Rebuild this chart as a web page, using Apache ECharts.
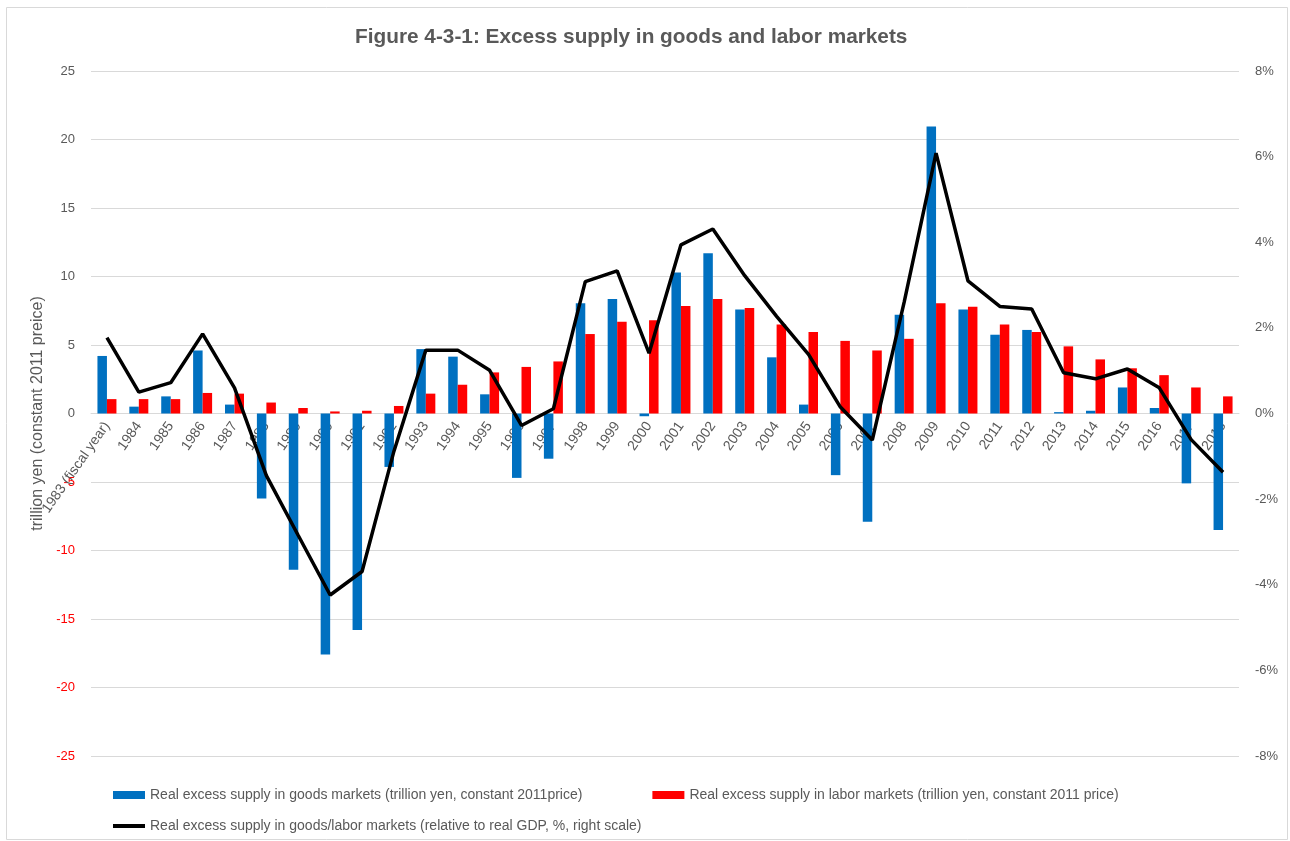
<!DOCTYPE html>
<html>
<head>
<meta charset="utf-8">
<script src="https://cdn.jsdelivr.net/npm/echarts@6/dist/echarts.min.js"></script>
<style>
html,body{margin:0;padding:0;background:#fff;}
#chart{width:1290px;height:841px;}
</style>
</head>
<body>
<div id="chart"></div>
<script>
const years = ["1983 (fiscal year)","1984","1985","1986","1987","1988","1989","1990","1991","1992","1993","1994","1995","1996","1997","1998","1999","2000","2001","2002","2003","2004","2005","2006","2007","2008","2009","2010","2011","2012","2013","2014","2015","2016","2017","2018"];
const goodsExcess = [4.2,0.5,1.25,4.6,0.65,-6.2,-11.4,-17.6,-15.8,-3.9,4.7,4.15,1.4,-4.7,-3.3,8.05,8.35,-0.2,10.3,11.7,7.6,4.1,0.65,-4.5,-7.9,7.2,20.95,7.6,5.75,6.1,0.1,0.2,1.9,0.4,-5.1,-8.5];
const laborExcess = [1.05,1.05,1.05,1.5,1.45,0.8,0.4,0.15,0.2,0.55,1.45,2.1,3.0,3.4,3.8,5.8,6.7,6.8,7.85,8.35,7.7,6.5,5.95,5.3,4.6,5.45,8.05,7.8,6.5,5.95,4.9,3.95,3.3,2.8,1.9,1.25];
const ratioGDP = [1.77,0.5,0.72,1.86,0.6,-1.45,-2.85,-4.24,-3.69,-0.88,1.48,1.48,1.01,-0.28,0.11,3.08,3.33,1.41,3.94,4.31,3.22,2.27,1.38,0.15,-0.62,2.6,6.08,3.1,2.5,2.44,0.95,0.81,1.04,0.6,-0.61,-1.37];
const leftTicks = {min:-25, max:25, interval:5};
const rightTicks = {min:-8, max:8, interval:2};
const seriesNames = [
  "Real excess supply in goods markets (trillion yen, constant 2011price)",
  "Real excess supply in labor markets (trillion yen, constant 2011 price)",
  "Real excess supply in goods/labor markets (relative to real GDP, %, right scale)"
];
const FONT = '"Liberation Sans", Arial, sans-serif';
const GRAY = '#595959';
const GRID = {left:91, right:51, top:71, bottom:85};
const GRID_H = 841 - GRID.top - GRID.bottom;

const chart = echarts.init(document.getElementById('chart'));
chart.setOption({
  animation:false,
  textStyle:{fontFamily:FONT},
  title:{
    text:"Figure 4-3-1: Excess supply in goods and labor markets",
    left:350, top:22,
    textStyle:{fontSize:20.8, fontWeight:'bold', color:GRAY, fontFamily:FONT}
  },
  graphic:[{type:'rect', left:4, top:5, shape:{width:1281, height:832}, style:{fill:'none', stroke:'#d9d9d9', lineWidth:1}, silent:true}],
  legend:[
    {data:[seriesNames[0], seriesNames[1]], left:108, top:783, itemWidth:32, itemHeight:8, itemGap:70,
     icon:'rect', textStyle:{fontSize:14, color:GRAY}},
    {data:[{name:seriesNames[2], icon:'rect'}], left:108, top:814, itemWidth:32, itemHeight:4,
     textStyle:{fontSize:14, color:GRAY}}
  ],
  grid:{left:GRID.left, right:GRID.right, top:GRID.top, bottom:GRID.bottom, containLabel:false, outerBoundsMode:'none'},
  xAxis:{
    type:'category', data:years, z:0,
    offset:-GRID_H/2,
    axisLine:{onZero:false, lineStyle:{color:'#d9d9d9', width:1}},
    axisTick:{show:false},
    axisLabel:{rotate:55, color:GRAY, fontSize:14, margin:10, interval:0},
    splitLine:{show:false}
  },
  yAxis:[
    {type:'value', min:leftTicks.min, max:leftTicks.max, interval:leftTicks.interval,
     name:"trillion yen (constant 2011 preice)", nameLocation:'middle', nameGap:42, nameRotate:90,
     nameTextStyle:{color:GRAY, fontSize:16},
     axisLine:{show:false}, axisTick:{show:false},
     axisLabel:{margin:16, fontSize:13, color:function(v){ return Number(v) < 0 ? '#FF0000' : GRAY; }},
     splitLine:{lineStyle:{color:'#d9d9d9', width:1}}},
    {type:'value', min:rightTicks.min, max:rightTicks.max, interval:rightTicks.interval,
     axisLine:{show:false}, axisTick:{show:false},
     axisLabel:{margin:16, fontSize:13, color:GRAY, formatter:function(v){ return v + '%'; }},
     splitLine:{show:false}}
  ],
  series:[
    {name:seriesNames[0], type:'bar', data:goodsExcess, yAxisIndex:0, barWidth:9.5, barGap:'0%', z:5,
     itemStyle:{color:'#0070C0'}},
    {name:seriesNames[1], type:'bar', data:laborExcess, yAxisIndex:0, barWidth:9.5, barGap:'0%', z:5,
     itemStyle:{color:'#FF0000'}},
    {name:seriesNames[2], type:'line', data:ratioGDP, yAxisIndex:1, symbol:'none', z:6,
     lineStyle:{color:'#000000', width:3.5}, itemStyle:{color:'#000000'}}
  ]
});
</script>
</body>
</html>
